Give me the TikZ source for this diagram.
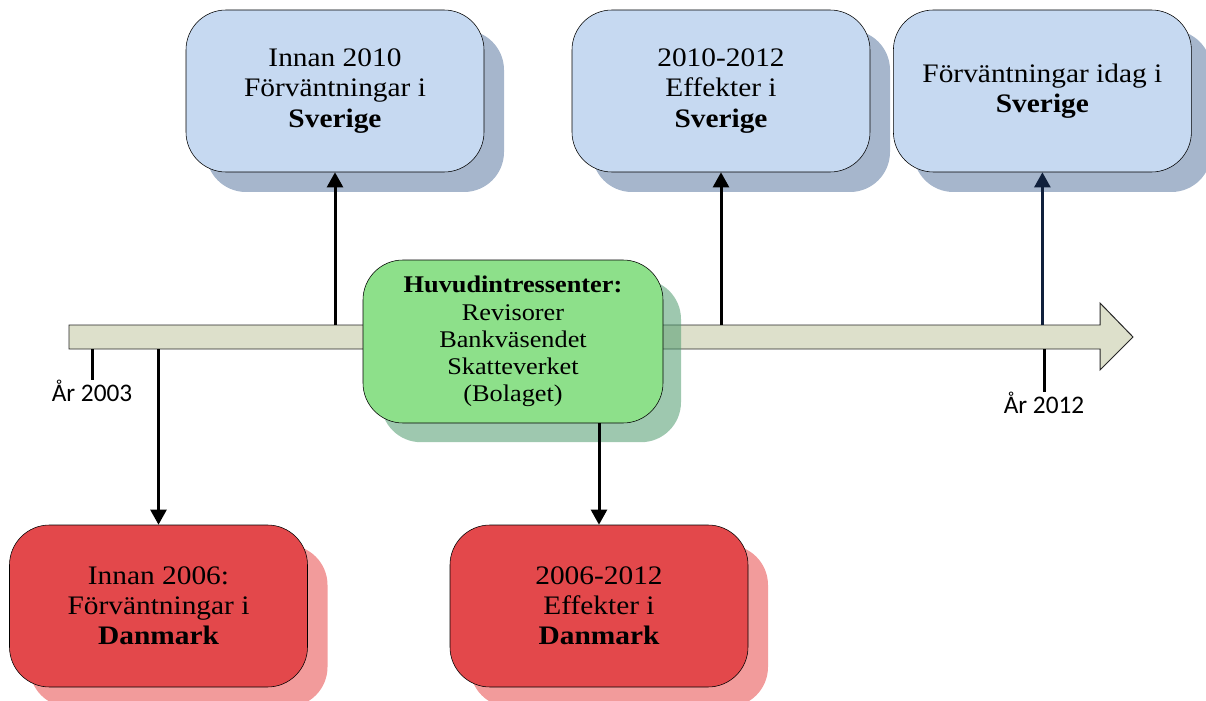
\documentclass[tikz,border=0pt]{standalone}
\usepackage{fontspec}
\setmainfont{Liberation Serif}[FakeStretch=1.1]
\newfontfamily\labelfont{Carlito}
\usetikzlibrary{arrows.meta, positioning, shadows}
\definecolor{swedenBlue}{HTML}{C6D9F1}
\definecolor{swedenShadow}{HTML}{A6B6CC}
\definecolor{hubGreen}{HTML}{8DE08A}
\definecolor{hubShadow}{HTML}{4E9A6E}
\definecolor{denmarkRed}{HTML}{E3484B}
\definecolor{denmarkShadow}{HTML}{F29B9B}
\definecolor{railFill}{HTML}{DDE0CB}
\definecolor{linkNavy}{HTML}{10203C}

\begin{document}
\begin{tikzpicture}[
    period/.style={draw, rounded corners=1cm, minimum width=7.45cm, minimum height=4.05cm, align=center, font=\fontsize{19}{21.5}\selectfont},
    sweden/.style={period, fill=swedenBlue, drop shadow={shadow xshift=0.5cm, shadow yshift=-0.5cm, fill=swedenShadow, opacity=1}},
    denmark/.style={period, fill=denmarkRed, drop shadow={shadow xshift=0.5cm, shadow yshift=-0.5cm, fill=denmarkShadow, opacity=1}},
    hub/.style={period, minimum width=7.5cm, minimum height=4.075cm, fill=hubGreen, font=\fontsize{17}{19.3}\selectfont, drop shadow={shadow xshift=0.45cm, shadow yshift=-0.48cm, fill=hubShadow, opacity=0.55}},
    link/.style={-{Triangle[width=0.4cm, length=0.38cm]}, line width=0.075cm},
    tick/.style={line width=0.075cm},
    year/.style={inner sep=0pt, anchor=north, font=\labelfont\fontsize{18}{21}\selectfont},
]
    \useasboundingbox (0,0) rectangle (30.15,-17.525);

    % timeline
    \draw[fill=railFill, draw=black!85, line width=0.7pt] (1.725,-8.125) -- (27.5,-8.125) -- (27.5,-7.575)
        -- (28.325,-8.425) -- (27.5,-9.25) -- (27.5,-8.725) -- (1.725,-8.725) -- cycle;
    \coordinate (railTop) at (0,-8.125);
    \coordinate (railBottom) at (0,-8.725);

    \node[sweden] (innan2010) at (8.375,-2.275) {Innan 2010\\Förväntningar i\\\textbf{Sverige}};
    \node[sweden] (effektSE) at (18.025,-2.275) {2010-2012\\Effekter i\\\textbf{Sverige}};
    \node[sweden] (idagSE) at (26.06,-2.275) {Förväntningar idag i\\\textbf{Sverige}};
    \node[denmark] (innan2006) at (3.9625,-15.15) {Innan 2006:\\Förväntningar i\\\textbf{Danmark}};
    \node[denmark] (effektDK) at (14.975,-15.15) {2006-2012\\Effekter i\\\textbf{Danmark}};
    \node[hub] (intressenter) at (12.825,-8.5375) {\textbf{Huvudintressenter:}\\Revisorer\\Bankväsendet\\Skatteverket\\(Bolaget)};

    \node[year] (ar2003) at (2.3,-9.5) {År 2003};
    \node[year] (ar2012) at (26.1,-9.8) {År 2012};

    \draw[tick] (railBottom -| ar2003.north) -- (ar2003.north);
    \draw[tick] (railBottom -| ar2012.north) -- (ar2012.north);

    \draw[link] (railTop -| innan2010.south) -- (innan2010.south);
    \draw[link] (railTop -| effektSE.south) -- (effektSE.south);
    \draw[link, linkNavy] (railTop -| idagSE.south) -- (idagSE.south);
    \draw[link] (railBottom -| innan2006.north) -- (innan2006.north);
    \draw[link] (effektDK.north |- intressenter.south) -- (effektDK.north);
\end{tikzpicture}
\end{document}
